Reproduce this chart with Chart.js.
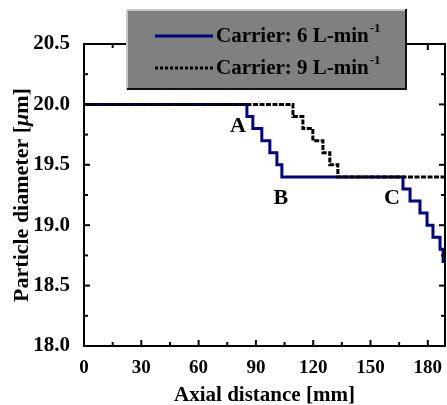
<!DOCTYPE html>
<html>
<head>
<meta charset="utf-8">
<script src="https://cdn.jsdelivr.net/npm/chart.js@4.4.0/dist/chart.umd.min.js"></script>
<style>
  html, body { margin: 0; padding: 0; background: #fff; }
  #wrap { width: 447px; height: 405px; }
</style>
</head>
<body>
<div id="wrap"><canvas id="chart" width="447" height="405"></canvas></div>
<script>
// axis ticks
const xTicks = [0, 30, 60, 90, 120, 150, 180];
const yTicks = [18.0, 18.5, 19.0, 19.5, 20.0, 20.5];

// step points (value changes at each x)
const carrier6X = [0, 85.3, 88.4, 93.1, 97.3, 101.0, 103.6, 167.0, 170.7, 175.9, 179.6, 182.7, 186.4, 188.0, 189];
const carrier6Y = [20.0, 19.9, 19.8, 19.7, 19.6, 19.5, 19.4, 19.3, 19.2, 19.1, 19.0, 18.9, 18.8, 18.7, 18.7];
const carrier9X = [0, 109.4, 114.6, 119.8, 125.1, 128.7, 132.9, 189];
const carrier9Y = [20.0, 19.9, 19.8, 19.7, 19.6, 19.5, 19.4, 19.4];

// point annotations
const markText = ["A", "B", "C"];
const markX = [80.6, 103.1, 161.2];
const markY = [19.82, 19.22, 19.22];

const FONT = '"Liberation Serif", "Times New Roman", serif';
const BLUE = "#000080";

function toPoints(xs, ys) {
  return xs.map((x, i) => ({ x: x, y: ys[i] }));
}

// frame, inward ticks, labels, titles and legend box
const decorPlugin = {
  id: "decor",
  afterDraw(chart) {
    const ctx = chart.ctx;
    const a = chart.chartArea;
    const xs = chart.scales.x;
    const ys = chart.scales.y;
    ctx.save();

    // inward ticks on all 4 sides
    ctx.strokeStyle = "#000";
    ctx.lineWidth = 2;
    const tick = (x1, y1, x2, y2) => {
      ctx.beginPath();
      ctx.moveTo(x1, y1);
      ctx.lineTo(x2, y2);
      ctx.stroke();
    };
    for (let i = 0; i < xTicks.length; i++) {
      const vals = [xTicks[i]];
      if (i < xTicks.length - 1) vals.push((xTicks[i] + xTicks[i + 1]) / 2);
      vals.forEach((v, k) => {
        const px = xs.getPixelForValue(v);
        const len = k === 0 ? 6 : 4;
        tick(px, a.bottom, px, a.bottom - len);
        tick(px, a.top, px, a.top + len);
      });
    }
    for (let i = 0; i < yTicks.length; i++) {
      const vals = [yTicks[i]];
      if (i < yTicks.length - 1) vals.push((yTicks[i] + yTicks[i + 1]) / 2);
      vals.forEach((v, k) => {
        const py = ys.getPixelForValue(v);
        const len = k === 0 ? 6 : 4;
        tick(a.left, py, a.left + len, py);
        tick(a.right, py, a.right - len, py);
      });
    }

    // frame
    ctx.lineWidth = 2;
    ctx.strokeRect(a.left, a.top, a.right - a.left, a.bottom - a.top);

    // A, B, C marks
    ctx.fillStyle = "#000";
    ctx.font = "bold 22px " + FONT;
    ctx.textAlign = "center";
    ctx.textBaseline = "middle";
    markText.forEach((t, i) => {
      ctx.fillText(t, xs.getPixelForValue(markX[i]), ys.getPixelForValue(markY[i]));
    });

    // x title
    ctx.font = "bold 21px " + FONT;
    ctx.textBaseline = "alphabetic";
    ctx.fillText("Axial distance [mm]", (a.left + a.right) / 2, 401);

    // y title with italic mu
    const parts = [
      ["Particle diameter [", "bold 22px " + FONT],
      ["\u03bc", "italic bold 22px " + FONT],
      ["m]", "bold 22px " + FONT],
    ];
    let total = 0;
    parts.forEach((p) => { ctx.font = p[1]; total += ctx.measureText(p[0]).width; });
    ctx.save();
    ctx.translate(28, (a.top + a.bottom) / 2);
    ctx.rotate(-Math.PI / 2);
    ctx.textAlign = "left";
    let cx = -total / 2;
    parts.forEach((p) => {
      ctx.font = p[1];
      ctx.fillText(p[0], cx, 0);
      cx += ctx.measureText(p[0]).width;
    });
    ctx.restore();

    // legend box
    const bx = 127, by = 9, bw = 280, bh = 81;
    ctx.fillStyle = "#808080";
    ctx.fillRect(bx, by, bw, bh);
    ctx.lineWidth = 2;
    ctx.strokeStyle = "#c8c8c8";
    tick(bx, by + bh, bx, by + 1);
    tick(bx, by + 1, bx + bw, by + 1);
    ctx.strokeStyle = "#111";
    tick(bx + bw - 1, by, bx + bw - 1, by + bh);
    tick(bx, by + bh - 1, bx + bw, by + bh - 1);

    const ds = chart.data.datasets;
    const rows = [36, 68];
    ds.forEach((d, i) => {
      ctx.strokeStyle = d.borderColor;
      ctx.lineWidth = 3;
      ctx.setLineDash(i === 1 ? [3, 2] : []);
      tick(155, rows[i], 213, rows[i]);
      ctx.setLineDash([]);
      ctx.fillStyle = "#000";
      ctx.textAlign = "left";
      ctx.textBaseline = "middle";
      ctx.font = "bold 21px " + FONT;
      ctx.fillText(d.label, 216, rows[i] + 1);
      const w = ctx.measureText(d.label).width;
      ctx.font = "bold 13px " + FONT;
      ctx.fillText("-1", 216 + w + 1, rows[i] - 7);
    });

    ctx.restore();
  },
};

new Chart(document.getElementById("chart"), {
  type: "line",
  data: {
    datasets: [
      {
        label: "Carrier: 6 L-min",
        data: toPoints(carrier6X, carrier6Y),
        borderColor: BLUE,
        borderWidth: 3,
        stepped: true,
        pointRadius: 0,
        fill: false,
        order: 2,
      },
      {
        label: "Carrier: 9 L-min",
        data: toPoints(carrier9X, carrier9Y),
        borderColor: "#000",
        borderWidth: 3,
        borderDash: [5, 1.5],
        stepped: true,
        pointRadius: 0,
        fill: false,
        order: 1,
      },
    ],
  },
  options: {
    responsive: false,
    animation: false,
    devicePixelRatio: 1,
    layout: { padding: { top: 44, right: 2, left: 0, bottom: 0 } },
    plugins: {
      legend: { display: false },
      tooltip: { enabled: false },
    },
    scales: {
      x: {
        type: "linear",
        min: 0,
        max: 189,
        grid: { display: false },
        border: { display: false },
        afterBuildTicks: (scale) => {
          scale.ticks = xTicks.map((v) => ({ value: v }));
        },
        afterFit: (scale) => { scale.height = 59; },
        ticks: {
          color: "#000",
          padding: 3,
          maxRotation: 0,
          font: { family: FONT, size: 19, weight: "bold" },
          callback: (v) => String(v),
        },
      },
      y: {
        type: "linear",
        min: 18,
        max: 20.5,
        grid: { display: false },
        border: { display: false },
        afterBuildTicks: (scale) => {
          scale.ticks = yTicks.map((v) => ({ value: v }));
        },
        afterFit: (scale) => { scale.width = 84; },
        ticks: {
          color: "#000",
          padding: 6,
          font: { family: FONT, size: 21, weight: "bold" },
          callback: (v) => Number(v).toFixed(1),
        },
      },
    },
  },
  plugins: [decorPlugin],
});
</script>
</body>
</html>
